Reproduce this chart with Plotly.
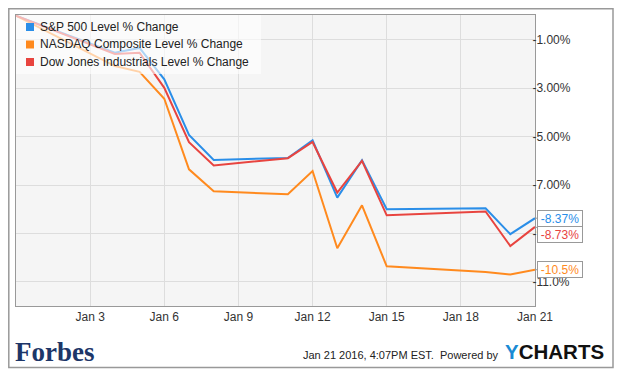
import plotly.graph_objects as go

dates = ["2015-12-31", "2016-01-04", "2016-01-05", "2016-01-06", "2016-01-07", "2016-01-08",
         "2016-01-11", "2016-01-12", "2016-01-13", "2016-01-14", "2016-01-15",
         "2016-01-19", "2016-01-20", "2016-01-21"]
sp500 = [0.0, -1.53, -1.33, -2.63, -4.93, -5.96, -5.88, -5.15, -7.52, -5.97, -8.00, -7.96, -9.03, -8.37]
nasdaq = [0.0, -2.08, -2.32, -3.43, -6.35, -7.26, -7.38, -6.42, -9.61, -7.84, -10.36, -10.59, -10.70, -10.5]
dow = [0.0, -1.58, -1.53, -2.98, -5.23, -6.19, -5.89, -5.22, -7.31, -6.00, -8.25, -8.09, -9.52, -8.73]

names = ["S&P 500 Level % Change", "NASDAQ Composite Level % Change", "Dow Jones Industrials Level % Change"]
colors = ["#2a8ee8", "#ff8a1e", "#e8443f"]
series = [sp500, nasdaq, dow]
end_labels = ["-8.37%", "-10.5%", "-8.73%"]
label_offsets = [0, 0, 8]

x_tickvals = ["2016-01-03", "2016-01-06", "2016-01-09", "2016-01-12", "2016-01-15", "2016-01-18", "2016-01-21"]
x_ticktext = ["Jan 3", "Jan 6", "Jan 9", "Jan 12", "Jan 15", "Jan 18", "Jan 21"]
y_tickvals = [-1, -3, -5, -7, -9, -11]
y_ticktext = ["-1.00%", "-3.00%", "-5.00%", "-7.00%", "-9.00%", "-11.0%"]

# page body has an 8px margin; work in screen pixels and convert
OFF = 8
W, H = 623 - OFF, 376 - OFF
L, T = 16 - OFF, 15 - OFF
PR, PB = 535 - OFF, 306 - OFF
R, B = W - PR, H - PB
pw, ph = PR - L, PB - T


def px(x):
    return (x - OFF - L) / pw


def py(y):
    return (PB - (y - OFF)) / ph


fig = go.Figure()
for name, col, vals in zip(names, colors, series):
    fig.add_trace(go.Scatter(x=dates, y=vals, mode="lines", name=name, line=dict(color=col, width=2),
                             showlegend=False, hoverinfo="skip"))

annotations = []
shapes = []

# legend (custom, square swatches)
shapes.append(dict(type="rect", xref="paper", yref="paper", x0=px(16), x1=px(261), y0=py(74), y1=py(15),
                   line=dict(width=0), fillcolor="rgba(255,255,255,0.62)", layer="above"))
leg_rows = [27, 44.5, 62]
for name, col, yy in zip(names, colors, leg_rows):
    shapes.append(dict(type="rect", xref="paper", yref="paper", x0=px(26), x1=px(34), y0=py(yy + 4), y1=py(yy - 4),
                       line=dict(width=0), fillcolor=col, layer="above"))
    annotations.append(dict(x=px(38), y=py(yy), xref="paper", yref="paper", text=name, showarrow=False,
                            xanchor="left", yanchor="middle",
                            font=dict(family="Liberation Sans, Arial", size=12, color="#222")))

for col, vals, lab, off in zip(colors, series, end_labels, label_offsets):
    annotations.append(dict(x=dates[-1], y=vals[-1], xref="x", yref="y", text=lab,
                            showarrow=True, arrowhead=0, arrowwidth=1, arrowcolor="#999",
                            ax=25, ay=off, width=42, height=13, align="center",
                            font=dict(family="Liberation Sans, Arial", size=12, color=col),
                            bgcolor="white", bordercolor="#999", borderwidth=1, borderpad=1))

annotations.append(dict(x=px(13), y=py(352), xref="paper", yref="paper", text="<b>Forbes</b>",
                        showarrow=False, xanchor="left", yanchor="middle",
                        font=dict(family="Liberation Serif, Times New Roman", size=27, color="#1d3668")))
annotations.append(dict(x=px(501), y=py(355), xref="paper", yref="paper",
                        text="Jan 21 2016, 4:07PM EST.  Powered by",
                        showarrow=False, xanchor="right", yanchor="middle",
                        font=dict(family="Liberation Sans, Arial", size=11, color="#222")))
annotations.append(dict(x=px(503), y=py(352), xref="paper", yref="paper",
                        text="<b><span style='color:#1a8ad4'>Y</span>CHARTS</b>",
                        showarrow=False, xanchor="left", yanchor="middle",
                        font=dict(family="Liberation Sans, Arial", size=20.5, color="#111")))

# outer frame
shapes.append(dict(type="rect", xref="paper", yref="paper", x0=px(8.8), x1=px(613), y0=py(367.5), y1=py(8.8),
                   line=dict(color="#999", width=1.5), fillcolor="rgba(0,0,0,0)", layer="below"))

fig.update_layout(
    width=W, height=H,
    margin=dict(l=L, r=R, t=T, b=B, pad=0),
    paper_bgcolor="white", plot_bgcolor="#f5f5f5",
    font=dict(family="Liberation Sans, Arial", size=12, color="#333"),
    showlegend=False,
    annotations=annotations,
    shapes=shapes,
    xaxis=dict(type="date", range=["2015-12-31", "2016-01-21"], tickvals=x_tickvals, ticktext=x_ticktext,
               showgrid=True, gridcolor="#dddddd", gridwidth=1, showline=True, mirror=True,
               linecolor="#999", linewidth=1, ticks="", tickfont=dict(size=12, color="#333"), zeroline=False),
    yaxis=dict(range=[-12, 0.03], side="right", tickvals=y_tickvals, ticktext=y_ticktext,
               showgrid=True, gridcolor="#dddddd", gridwidth=1, showline=True, mirror=True,
               linecolor="#999", linewidth=1, ticks="", ticklabelstandoff=-6,
               tickfont=dict(size=12, color="#333"), zeroline=False),
)

fig.write_html("out.html")
